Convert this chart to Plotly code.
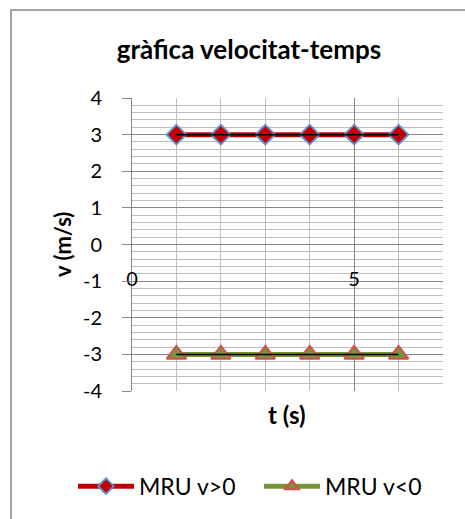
import plotly.graph_objects as go

t_values = [1, 2, 3, 4, 5, 6]
v_pos = [3, 3, 3, 3, 3, 3]
v_neg = [-3, -3, -3, -3, -3, -3]
series_names = ["MRU v>0", "MRU v<0"]
chart_title = "gràfica velocitat-temps"
x_title = "t (s)"
y_title = "v (m/s)"
x_tick_vals = [0, 5]
x_tick_labels = ["0", "5"]
y_tick_vals = [-4, -3, -2, -1, 0, 1, 2, 3, 4]
y_tick_labels = ["-4", "-3", "-2", "-1", "0", "1", "2", "3", "4"]

FONT = "Lato"
W, H = 465, 519
L, R, T, B = 132, 22, 97.5, 126.5
pw, ph = W - L - R, H - T - B

def px_x(p):
    return (p - L) / pw

def px_y(p):
    return (H - B - p) / ph

fig = go.Figure()
fig.add_trace(go.Scatter(
    x=t_values, y=v_pos, name=series_names[0], mode="lines+markers",
    line=dict(color="#C00000", width=5),
    marker=dict(symbol="diamond", size=15, color="#C00000",
                line=dict(color="#5B8FCB", width=2)),
))
fig.add_trace(go.Scatter(
    x=t_values, y=v_pos, mode="lines", showlegend=False, hoverinfo="skip",
    line=dict(color="#000000", width=1.5),
))
fig.add_trace(go.Scatter(
    x=t_values, y=v_neg, name=series_names[1], mode="lines+markers",
    line=dict(color="#77933C", width=5),
    marker=dict(symbol="triangle-up", size=17, color="#77933C",
                line=dict(color="#D0504D", width=2)),
))
fig.add_trace(go.Scatter(
    x=t_values, y=v_neg, mode="lines", showlegend=False, hoverinfo="skip",
    line=dict(color="#000000", width=1.5),
))

fig.update_layout(
    width=W, height=H,
    margin=dict(l=L, r=R, t=T, b=B),
    paper_bgcolor="white", plot_bgcolor="white",
    font=dict(family=FONT, size=20, color="#000000"),
    title=dict(text="<b>" + chart_title + "</b>", x=249 / W, xref="container",
               y=1 - 50 / H, yref="container", xanchor="center", yanchor="middle",
               font=dict(size=26)),
    showlegend=True,
    legend=dict(orientation="h", x=px_x(73), y=px_y(487), xanchor="left",
                yanchor="middle", itemwidth=56, font=dict(size=23),
                entrywidth=115, entrywidthmode="pixels",
                tracegroupgap=0, itemsizing="constant"),
    xaxis=dict(range=[0, 7], tickmode="array", tickvals=x_tick_vals, ticktext=x_tick_labels,
               showgrid=True, gridcolor="#868686",
               gridwidth=1, zeroline=False, showline=False, ticks="",
               anchor="free", position=0.5, ticklabelstandoff=20,
               minor=dict(dtick=1, tick0=0, showgrid=True, gridcolor="#BEBEBE", gridwidth=1),
               fixedrange=True),
    yaxis=dict(range=[-4, 4], tickmode="array", tickvals=y_tick_vals, ticktext=y_tick_labels,
               showgrid=True, gridcolor="#868686",
               gridwidth=1, zeroline=False, showline=True, linecolor="#868686",
               ticks="outside", ticklen=9, tickcolor="#868686", ticklabelstandoff=16,
               minor=dict(dtick=0.2, tick0=0, showgrid=True, gridcolor="#BEBEBE", gridwidth=1),
               fixedrange=True),
    annotations=[
        dict(text="<b>" + y_title + "</b>", x=px_x(62.5), y=0.5, xref="paper", yref="paper",
             textangle=-90, showarrow=False, xanchor="center", yanchor="middle",
             font=dict(size=22)),
        dict(text="<b>" + x_title + "</b>", x=px_x(286.5), y=px_y(416), xref="paper", yref="paper",
             showarrow=False, xanchor="center", yanchor="middle", font=dict(size=24)),
    ],
    shapes=[
        dict(type="rect", xref="paper", yref="paper", x0=px_x(11), y0=px_y(530),
             x1=px_x(475), y1=px_y(9), line=dict(color="#868686", width=1.5),
             fillcolor="rgba(0,0,0,0)", layer="below"),
    ],
)

fig.write_html("out.html")
